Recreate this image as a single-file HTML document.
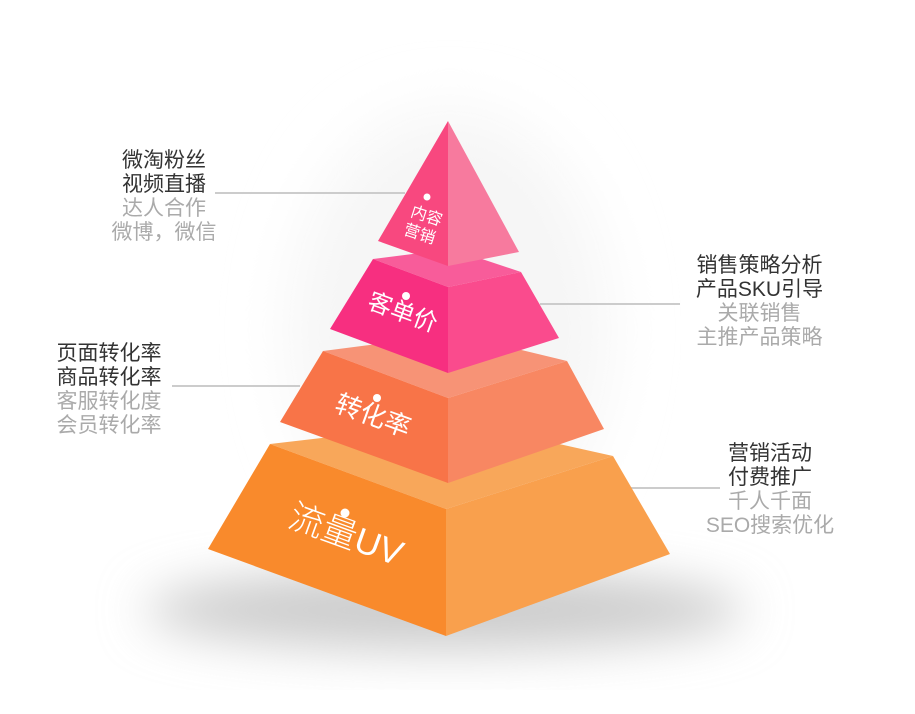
<!DOCTYPE html>
<html><head><meta charset="utf-8"><style>
html,body{margin:0;padding:0;background:#fff;}
body{width:915px;height:714px;position:relative;overflow:hidden;font-family:"Liberation Sans","Noto Sans CJK SC",sans-serif;}
.blk{position:absolute;text-align:center;font-size:21px;line-height:24px;}
.d{color:#333;}.l{color:#aaa;}
</style></head><body>
<svg width="915" height="714" style="position:absolute;left:0;top:0">
<defs>
<filter id="b" x="-50%" y="-50%" width="200%" height="200%"><feGaussianBlur stdDeviation="24"/></filter>
<filter id="b2" x="-50%" y="-50%" width="200%" height="200%"><feGaussianBlur stdDeviation="30"/></filter>
</defs>
<ellipse cx="445" cy="610" rx="300" ry="40" fill="#ccc" filter="url(#b)"/>
<ellipse cx="450" cy="330" rx="160" ry="220" fill="#f6f6f6" filter="url(#b2)"/>
<line x1="215" y1="193" x2="405" y2="193" stroke="#ccc" stroke-width="2"/>
<line x1="172" y1="386" x2="300" y2="386" stroke="#ccc" stroke-width="2"/>
<line x1="540" y1="304" x2="680" y2="304" stroke="#ccc" stroke-width="2"/>
<line x1="610" y1="488" x2="720" y2="488" stroke="#ccc" stroke-width="2"/>
<polygon points="270,444 460,422 613,456 446,509" fill="#f8a75a"/>
<polygon points="270,444 446,509 446,636 208,549" fill="#f98a2c"/>
<polygon points="446,509 613,456 670,554 446,636" fill="#f9a04d"/>
<polygon points="323,351 455,334 567,361 448,398" fill="#f79376"/>
<polygon points="323,351 448,398 448,483 280,422" fill="#f87448"/>
<polygon points="448,398 567,361 604,429 448,483" fill="#f88762"/>
<polygon points="373,259 452,249 521,272 448,287" fill="#f85c9a"/>
<polygon points="373,259 448,287 448,373 330,329" fill="#f72f80"/>
<polygon points="448,287 521,272 559,338 448,373" fill="#fa4b8d"/>
<polygon points="448,121 448,266 378,241" fill="#f8487f"/>
<polygon points="448,121 519,252 448,266" fill="#f77a9e"/>
<g fill="#fff" font-family="'Liberation Sans','Noto Sans CJK SC',sans-serif">
<circle cx="427" cy="197" r="3.5"/>
<text transform="translate(425,221) rotate(18)" font-size="16" text-anchor="middle">内容</text>
<text transform="translate(418,239) rotate(18)" font-size="16" text-anchor="middle">营销</text>
<circle cx="406" cy="296" r="4"/>
<text transform="translate(400,320) rotate(20)" font-size="24" text-anchor="middle">客单价</text>
<circle cx="377" cy="398" r="4"/>
<text transform="translate(370,424) rotate(20)" font-size="26" text-anchor="middle">转化率</text>
<circle cx="345" cy="513" r="4.5"/>
<text transform="translate(342,546) rotate(20)" font-size="35" text-anchor="middle" font-weight="300">流量UV</text>
</g>
</svg>
<div class="blk" style="left:104px;top:149px;width:120px"><div class="d">微淘粉丝</div><div class="d">视频直播</div><div class="l">达人合作</div><div class="l">微博，微信</div></div>
<div class="blk" style="left:44px;top:342px;width:130px"><div class="d">页面转化率</div><div class="d">商品转化率</div><div class="l">客服转化度</div><div class="l">会员转化率</div></div>
<div class="blk" style="left:687px;top:254px;width:145px"><div class="d">销售策略分析</div><div class="d">产品SKU引导</div><div class="l">关联销售</div><div class="l">主推产品策略</div></div>
<div class="blk" style="left:697px;top:442px;width:146px"><div class="d">营销活动</div><div class="d">付费推广</div><div class="l">千人千面</div><div class="l">SEO搜索优化</div></div>
</body></html>
